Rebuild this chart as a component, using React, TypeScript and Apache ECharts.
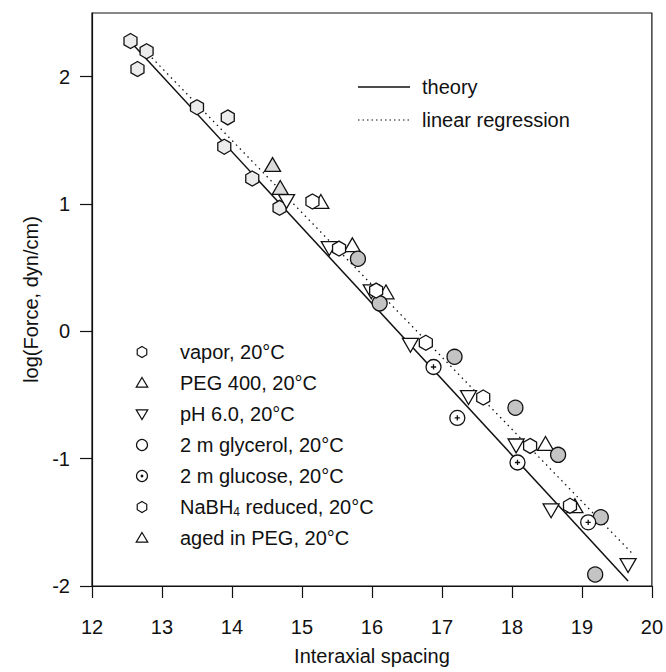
import React, { useEffect, useRef } from 'react';
import * as echarts from 'echarts';

// ---- data (x = interaxial spacing, y = log(Force, dyn/cm)) ----
const xTicks = [12, 13, 14, 15, 16, 17, 18, 19, 20];
const yTicks = [-2, -1, 0, 1, 2];

const vapor = [[12.55, 2.28], [12.78, 2.2], [12.65, 2.06], [13.5, 1.76], [13.94, 1.68], [13.89, 1.45], [14.29, 1.2], [14.68, 0.97]];
const peg400 = [[15.27, 1.02], [15.72, 0.68], [16.2, 0.31], [18.48, -0.88], [18.9, -1.37]];
const ph6 = [[14.78, 1.02], [15.39, 0.65], [15.99, 0.31], [16.55, -0.11], [17.38, -0.52], [18.06, -0.9], [18.56, -1.41], [19.66, -1.84]];
const glycerol = [[15.8, 0.57], [16.11, 0.22], [17.18, -0.2], [18.05, -0.6], [18.66, -0.97], [19.27, -1.46], [19.19, -1.91]];
const glucose = [[16.88, -0.28], [17.22, -0.68], [18.08, -1.03], [19.09, -1.5]];
const nabh4 = [[15.15, 1.02], [15.53, 0.65], [16.06, 0.32], [16.77, -0.09], [17.59, -0.52], [18.26, -0.9], [18.83, -1.37]];
const agedPeg = [[14.58, 1.31], [14.69, 1.13]];

const theory = [[12.54, 2.28], [19.66, -1.96]];
const regression = [[12.8, 2.18], [19.73, -1.75]];

const seriesNames = ['vapor, 20°C', 'PEG 400, 20°C', 'pH 6.0, 20°C', '2 m glycerol, 20°C', '2 m glucose, 20°C', 'NaBH4 reduced, 20°C', 'aged in PEG, 20°C'];
const lineNames = ['theory', 'linear regression'];

const FONT = '"Liberation Sans", Arial, Helvetica, sans-serif';
const INK = '#111';

const HEX = 'path://M0,-10 L8.66,-5 L8.66,5 L0,10 L-8.66,5 L-8.66,-5 Z';
const TRI_UP = 'path://M10,0 L20,17.32 L0,17.32 Z';
const TRI_DOWN = 'path://M0,0 L20,0 L10,17.32 Z';
const CIRC_PLUS = 'path://M0,10 A10,10 0 1,0 20,10 A10,10 0 1,0 0,10 Z M10,6.5 L10,13.5 M6.5,10 L13.5,10';

function scatter(name: string, data: number[][], symbol: string, size: number, fill: string) {
  return {
    name,
    type: 'scatter',
    data,
    symbol,
    symbolSize: size,
    symbolKeepAspect: true,
    z: 5,
    itemStyle: { color: fill, borderColor: INK, borderWidth: 1.3, opacity: 1 },
  };
}

function legendIcon(kind: string, cx: number, cy: number): any {
  const r = 5.5;
  const style = { fill: '#fff', stroke: INK, lineWidth: 1.2 };
  if (kind === 'hex') {
    const h = 0.866 * r;
    return { type: 'polygon', shape: { points: [[cx, cy - r], [cx + h, cy - r / 2], [cx + h, cy + r / 2], [cx, cy + r], [cx - h, cy + r / 2], [cx - h, cy - r / 2]] }, style };
  }
  if (kind === 'up') {
    return { type: 'polygon', shape: { points: [[cx, cy - r], [cx + r * 1.05, cy + r * 0.75], [cx - r * 1.05, cy + r * 0.75]] }, style };
  }
  if (kind === 'down') {
    return { type: 'polygon', shape: { points: [[cx - r * 1.05, cy - r * 0.75], [cx + r * 1.05, cy - r * 0.75], [cx, cy + r]] }, style };
  }
  if (kind === 'circle') {
    return { type: 'circle', shape: { cx, cy, r }, style };
  }
  return {
    type: 'group',
    children: [
      { type: 'circle', shape: { cx, cy, r }, style },
      { type: 'circle', shape: { cx, cy, r: 1.4 }, style: { fill: INK } },
    ],
  };
}

export default function App() {
  const ref = useRef<HTMLDivElement>(null);
  useEffect(() => {
    if (!ref.current) return;
    const chart = echarts.init(ref.current, null, { renderer: 'svg' });

    const iconKinds = ['hex', 'up', 'down', 'circle', 'cplus', 'hex', 'up'];
    const legendTop = 352;
    const legendStep = 31;
    const legendEls: any[] = [];
    seriesNames.forEach((n, i) => {
      const cy = legendTop + i * legendStep;
      legendEls.push(legendIcon(iconKinds[i], 142, cy));
      if (n.startsWith('NaBH4')) {
        legendEls.push({
          type: 'text', x: 180, y: cy, z: 10,
          style: {
            text: '{t|NaBH}{s|4}{t| reduced, 20°C}',
            verticalAlign: 'middle',
            rich: {
              t: { fontSize: 20, fontFamily: FONT, fill: INK, lineHeight: 22 },
              s: { fontSize: 12, fontFamily: FONT, fill: INK, verticalAlign: 'bottom', lineHeight: 12, padding: [10, 0, 0, 0] },
            },
          },
        });
      } else {
        legendEls.push({
          type: 'text', x: 180, y: cy, z: 10,
          style: { text: n, fontSize: 20, fontFamily: FONT, fill: INK, verticalAlign: 'middle' },
        });
      }
    });
    // line legend (top right)
    legendEls.push({ type: 'line', shape: { x1: 358, y1: 87, x2: 410, y2: 87 }, style: { stroke: INK, lineWidth: 1.4 } });
    legendEls.push({ type: 'text', x: 422, y: 87, style: { text: lineNames[0], fontSize: 20, fontFamily: FONT, fill: INK, verticalAlign: 'middle' } });
    legendEls.push({ type: 'line', shape: { x1: 358, y1: 120, x2: 410, y2: 120 }, style: { stroke: INK, lineWidth: 1.2, lineDash: [1.5, 3] } });
    legendEls.push({ type: 'text', x: 422, y: 120, style: { text: lineNames[1], fontSize: 20, fontFamily: FONT, fill: INK, verticalAlign: 'middle' } });

    chart.setOption({
      animation: false,
      backgroundColor: '#fff',
      grid: { left: 92, right: 12, top: 13, bottom: 86, show: true, borderColor: INK, borderWidth: 1.2, backgroundColor: 'transparent' },
      xAxis: {
        type: 'value', min: 12, max: 20, interval: 1,
        name: 'Interaxial spacing', nameLocation: 'middle', nameGap: 60,
        nameTextStyle: { fontSize: 20, fontFamily: FONT, color: INK },
        axisLine: { show: true, onZero: false, lineStyle: { color: INK, width: 1.2 } },
        axisTick: { show: true, length: 12, inside: false, lineStyle: { color: INK, width: 1.2 }, customValues: xTicks },
        axisLabel: { fontSize: 20, fontFamily: FONT, color: INK, margin: 31, customValues: xTicks },
        splitLine: { show: false },
      },
      yAxis: {
        type: 'value', min: -2, max: 2.5, interval: 1,
        name: 'log(Force, dyn/cm)', nameLocation: 'middle', nameGap: 50, nameRotate: 90,
        nameTextStyle: { fontSize: 20, fontFamily: FONT, color: INK },
        axisLine: { show: true, onZero: false, lineStyle: { color: INK, width: 1.2 } },
        axisTick: { show: true, length: 12, inside: false, lineStyle: { color: INK, width: 1.2 }, customValues: yTicks },
        axisLabel: { fontSize: 20, fontFamily: FONT, color: INK, margin: 22, customValues: yTicks },
        splitLine: { show: false },
      },
      graphic: legendEls,
      series: [
        { name: lineNames[0], type: 'line', data: theory, symbol: 'none', z: 2, lineStyle: { color: INK, width: 1.5, type: 'solid' } },
        { name: lineNames[1], type: 'line', data: regression, symbol: 'none', z: 2, lineStyle: { color: INK, width: 1.3, type: [1.5, 4] } },
        scatter(seriesNames[0], vapor, HEX, 15, '#ececec'),
        scatter(seriesNames[1], peg400, TRI_UP, 16, '#fff'),
        scatter(seriesNames[2], ph6, TRI_DOWN, 16, '#fff'),
        scatter(seriesNames[3], glycerol, 'circle', 15, '#c4c4c4'),
        scatter(seriesNames[4], glucose, CIRC_PLUS, 15, '#fff'),
        scatter(seriesNames[5], nabh4, HEX, 15, '#fff'),
        scatter(seriesNames[6], agedPeg, TRI_UP, 16, '#dcdcdc'),
      ],
    });
    return () => chart.dispose();
  }, []);
  return <div ref={ref} style={{ position: 'absolute', left: 0, top: 0, width: 666, height: 672 }} />;
}
